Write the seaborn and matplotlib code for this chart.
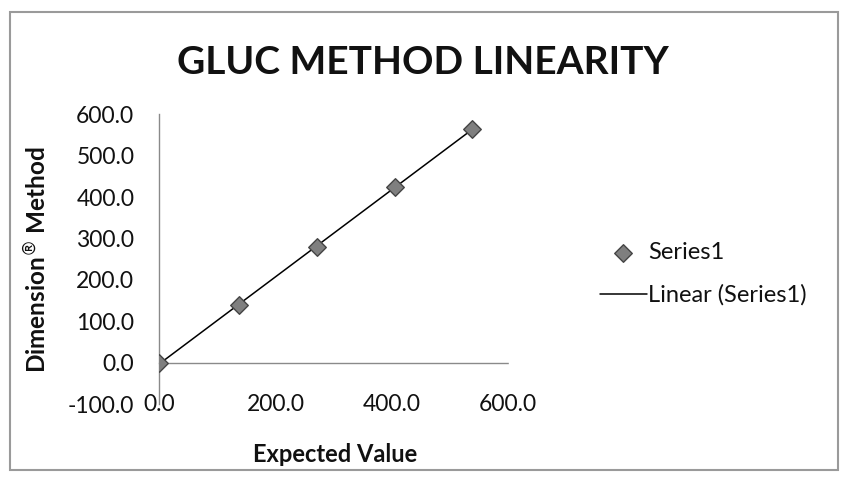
import matplotlib
matplotlib.use("Agg")
import matplotlib.pyplot as plt
import numpy as np
import pandas as pd
import seaborn as sns
from matplotlib.patches import Rectangle

# values
expected = [0.0, 137.0, 272.0, 405.0, 538.0]
measured = [0.0, 139.0, 280.0, 424.0, 565.0]
x_ticks = [0.0, 200.0, 400.0, 600.0]
y_ticks = [-100.0, 0.0, 100.0, 200.0, 300.0, 400.0, 500.0, 600.0]

df = pd.DataFrame({"Expected Value": expected, "Dimension Method": measured})

sns.set_style("white")
plt.rcParams["font.family"] = ["Lato", "DejaVu Sans"]
plt.rcParams["text.color"] = "#111111"
plt.rcParams["mathtext.fontset"] = "dejavusans"

fig = plt.figure(figsize=(8.45, 4.82), dpi=100)
ax = fig.add_axes([0.1885, 0.1618, 0.413, 0.6011])

# outer chart border
fig.patches.append(Rectangle((10 / 845, 1 - 470 / 482), 828 / 845, 458 / 482,
                             transform=fig.transFigure, fill=False,
                             edgecolor="#9a9a9a", linewidth=1.5))

# trendline first, then markers on top
sns.regplot(data=df, x="Expected Value", y="Dimension Method", ax=ax,
            scatter=False, ci=None, truncate=True,
            line_kws={"color": "black", "linewidth": 1.1})
ax.lines[-1].set_label("Linear (Series1)")
sns.scatterplot(data=df, x="Expected Value", y="Dimension Method", ax=ax,
                marker="D", s=80, color="#7f7f7f", edgecolor="#454545",
                linewidth=1.0, label="Series1", zorder=3)

ax.set_xlim(0, 600)
ax.set_ylim(-100, 600)

# axes drawn Excel style: y axis at x=0, x axis crossing at y=0
for side in ["top", "right"]:
    ax.spines[side].set_visible(False)
ax.spines["left"].set_color("#8a8a8a")
ax.spines["left"].set_linestyle((0, (1, 1)))
ax.spines["left"].set_linewidth(1.0)
ax.spines["bottom"].set_position(("data", 0))
ax.spines["bottom"].set_color("#8a8a8a")
ax.spines["bottom"].set_linestyle((0, (1, 1)))
ax.spines["bottom"].set_linewidth(1.0)

ax.set_yticks(y_ticks)
ax.set_yticklabels([f"{v:.1f}" for v in y_ticks])
ax.tick_params(axis="y", direction="out", length=6, width=0.8, color="#8a8a8a",
               labelsize=16.5, labelcolor="#111111", pad=12)
ax.set_xticks(x_ticks)
ax.tick_params(axis="x", direction="inout", length=6, width=0.8, color="#8a8a8a",
               labelbottom=False)

# x tick labels sit at the bottom of the plot area
sec = ax.secondary_xaxis("bottom")
sec.set_xticks(x_ticks)
sec.set_xticklabels([f"{v:.1f}" for v in x_ticks])
sec.spines["bottom"].set_visible(False)
sec.tick_params(axis="x", length=0, labelsize=16.5, labelcolor="#111111", pad=0)
for lbl in sec.get_xticklabels():
    lbl.set_va("center")

ax.set_xlabel("")
ax.set_ylabel("")
fig.text(335 / 845, 1 - 455 / 482, "Expected Value", ha="center", va="center",
         fontsize=17, fontweight="bold")
fig.text(37 / 845, 1 - 260 / 482, r"Dimension$^{\circledR}$ Method", ha="center",
         va="center", rotation=90, fontsize=17.5, fontweight="bold")
fig.text(423 / 845, 1 - 62 / 482, "GLUC METHOD LINEARITY", ha="center", va="center",
         fontsize=28, fontweight="bold")

handles, labels = ax.get_legend_handles_labels()
order = [labels.index("Series1"), labels.index("Linear (Series1)")]
ax.legend([handles[i] for i in order], [labels[i] for i in order],
          loc="center left", bbox_to_anchor=(588 / 845, 1 - 274 / 482),
          bbox_transform=fig.transFigure, frameon=False, fontsize=17,
          handlelength=2.0, handletextpad=0.05, labelspacing=0.9, borderpad=0)

fig.savefig("out.png", dpi=100, facecolor="white")
